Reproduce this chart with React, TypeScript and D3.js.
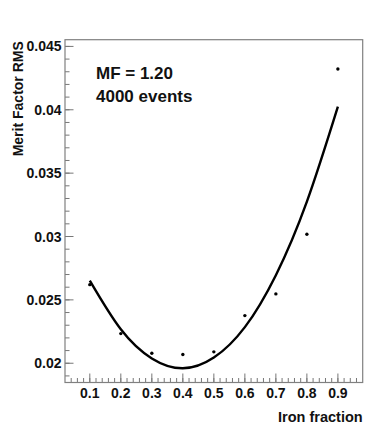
import React from "react";
import * as d3 from "d3";

// measured points (iron fraction vs merit factor RMS)
const ironFraction = [0.1, 0.2, 0.3, 0.4, 0.5, 0.6, 0.7, 0.8, 0.9];
const meritRms = [0.0262, 0.02234, 0.02079, 0.02069, 0.0209, 0.02376, 0.02547, 0.03018, 0.04322];

// fitted curve
const fitX = [0.1, 0.2, 0.3, 0.4, 0.5, 0.6, 0.7, 0.8, 0.9];
const fitY = [0.02652, 0.02268, 0.02038, 0.0196, 0.02045, 0.02285, 0.02695, 0.03275, 0.04025];

const xTicks = ["0.1", "0.2", "0.3", "0.4", "0.5", "0.6", "0.7", "0.8", "0.9"];
const yTicks = ["0.02", "0.025", "0.03", "0.035", "0.04", "0.045"];

const width = 382;
const height = 440;
const left = 65;
const right = 362.7;
const top = 39.7;
const bottom = 382.5;
const font = "'Liberation Sans', Arial, Helvetica, sans-serif";

export default function App() {
  const x = d3.scaleLinear().domain([0.02, 0.98]).range([left, right]);
  const y = d3.scaleLinear().domain([0.01848, 0.04553]).range([bottom, top]);

  const xMinor = d3.range(2, 49).map((i) => i * 0.02).filter((v) => v > 0.02 && v < 0.98);
  const yMinor = d3.range(19, 46).map((i) => i * 0.001);

  const line = d3
    .line<number>()
    .x((_, i) => x(fitX[i]))
    .y((d) => y(d))
    .curve(d3.curveNatural);

  return (
    <svg
      width={width}
      height={height}
      style={{ position: "absolute", left: 0, top: 0, background: "white" }}
      fontFamily={font}
      fontWeight="bold"
    >
      <rect x={0} y={0} width={width} height={height} fill="white" />
      <g stroke="#777" strokeWidth={1}>
        {xMinor.map((v, i) => (
          <line key={"xm" + i} x1={x(v)} x2={x(v)} y1={bottom} y2={bottom - 4.5} />
        ))}
        {xTicks.map((t) => (
          <line key={"xM" + t} x1={x(+t)} x2={x(+t)} y1={bottom} y2={bottom - 9} />
        ))}
        {yMinor.map((v, i) => (
          <line key={"ym" + i} x1={left} x2={left + 4.5} y1={y(v)} y2={y(v)} />
        ))}
        {yTicks.map((t) => (
          <line key={"yM" + t} x1={left} x2={left + 8.5} y1={y(+t)} y2={y(+t)} />
        ))}
      </g>
      <rect
        x={left}
        y={top}
        width={right - left}
        height={bottom - top}
        fill="none"
        stroke="#808080"
        strokeWidth={1.2}
      />
      <g fontSize={14} fill="#111">
        {xTicks.map((t) => (
          <text key={"xl" + t} x={x(+t)} y={398} textAnchor="middle">
            {t}
          </text>
        ))}
        {yTicks.map((t) => (
          <text key={"yl" + t} x={61.5} y={y(+t) + 5} textAnchor="end">
            {t}
          </text>
        ))}
      </g>
      <text x={right} y={422} textAnchor="end" fontSize={14.5} fill="#111">
        Iron fraction
      </text>
      <text
        transform={`translate(23,${top + 1.5}) rotate(-90)`}
        textAnchor="end"
        fontSize={14}
        fill="#111"
      >
        Merit Factor RMS
      </text>
      <text x={96} y={79} fontSize={17} fill="#111">
        MF = 1.20
      </text>
      <text x={96} y={101.5} fontSize={17} fill="#111">
        4000 events
      </text>
      <path d={line(fitY) ?? ""} fill="none" stroke="black" strokeWidth={2.4} />
      <g fill="black">
        {meritRms.map((d, i) => (
          <circle key={i} cx={x(ironFraction[i])} cy={y(d)} r={1.7} />
        ))}
      </g>
    </svg>
  );
}
